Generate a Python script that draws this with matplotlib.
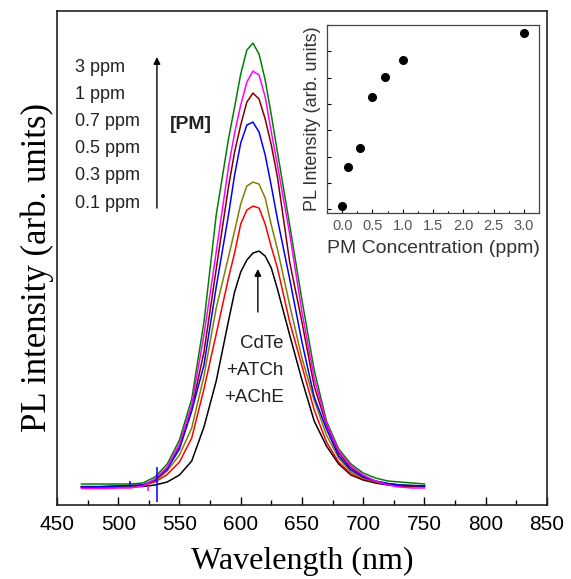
import numpy as np
import matplotlib
matplotlib.use('Agg')
import matplotlib.pyplot as plt
from matplotlib.ticker import MultipleLocator

# PL spectra (baseline = 0, arbitrary units)
wl = [470, 480, 490, 500, 510, 520, 530, 540, 550, 560, 570, 580, 590, 595, 600,
      605, 610, 615, 620, 625, 630, 640, 650, 660, 670, 680, 690, 700, 710, 720,
      730, 740, 750]

pl_0ppm = [0, 0, 0, 0, 0.3, 0.5, 2, 5, 12, 26, 60, 106, 166, 195, 215,
           227, 234, 236, 231, 219, 198, 152, 107, 66, 41, 23, 12, 7, 4, 2,
           1, 0.5, 0.5]
pl_01ppm = [0, 0, 0, 0.5, 1, 1.5, 5, 12.5, 25, 49, 98, 153, 209, 234, 263,
            277, 281, 279, 263, 240, 219, 165, 121, 77, 45, 25, 13, 8, 5, 3,
            2, 1, 1]
pl_03ppm = [0, 0, 0.5, 0.5, 1, 1.5, 6, 16, 32, 59, 111, 179, 230, 256, 283,
            301, 305, 303, 289, 262, 238, 182, 129, 87, 52, 29, 15, 9, 5.5, 3.5,
            2, 1.5, 1]
pl_05ppm = [0, 0, 0.5, 1, 1.5, 2, 7, 18, 38, 76, 122, 200, 272, 312, 344,
            362, 365, 355, 332, 301, 268, 208, 145, 90, 58, 31, 17, 10, 6, 3.5,
            2, 1.5, 1]
pl_07ppm = [0.5, 0.5, 0.5, 1, 1.5, 2, 7, 18, 40, 78, 135, 218, 300, 335, 362,
            385, 394, 388, 368, 342, 310, 225, 165, 101, 62, 34, 19, 11, 6, 3,
            1.5, 1, 0.5]
pl_1ppm = [-1.5, -1.5, -1.5, -1, -1, 1, 8, 20, 43, 82, 152, 235, 320, 354, 382,
           405, 416, 412, 390, 355, 322, 253, 175, 109, 64, 36, 21, 12, 6, 2,
           0, -1, -1]
pl_3ppm = [3, 3, 3, 3, 3, 4, 10, 23, 47, 88, 165, 272, 348, 380, 413,
           437, 444, 433, 407, 372, 335, 262, 187, 117, 66, 38, 23, 14, 9, 6,
           5, 4, 3]

spectra = [pl_0ppm, pl_01ppm, pl_03ppm, pl_07ppm, pl_05ppm, pl_3ppm, pl_1ppm]
colors = ['black', '#ff0000', '#808000', '#800000', '#0000ff', '#008000', '#ff00ff']

# narrow spikes in the spectra
spike_wl = [510, 532, 524]
spike_lo = [0, -15, -4]
spike_hi = [6, 20, 1]
spike_col = ['#0000ff', '#0000ff', '#ff00ff']

conc_labels = ['3 ppm', '1 ppm', '0.7 ppm', '0.5 ppm', '0.3 ppm', '0.1 ppm']
sample_lines = ['CdTe', '+ATCh', '+AChE']

# inset: peak intensity vs concentration
conc = [0.0, 0.1, 0.3, 0.5, 0.7, 1.0, 3.0]
peak = [0.13, 1.61, 2.31, 4.25, 5.03, 5.69, 6.68]

sans = ['Liberation Sans', 'DejaVu Sans']
serif = ['Liberation Serif', 'DejaVu Serif']

fig = plt.figure(figsize=(5.71, 5.79), dpi=100)
ax = fig.add_axes([0.0998, 0.1278, 0.858, 0.853])

for y, c in zip(spectra, colors):
    ax.plot(wl, y, color=c, lw=1.1)
ax.vlines(spike_wl, spike_lo, spike_hi, colors=spike_col, lw=1.1)

ax.set_xlim(450, 850)
ax.set_ylim(-18, 476)
ax.xaxis.set_major_locator(MultipleLocator(50))
ax.xaxis.set_minor_locator(MultipleLocator(25))
ax.tick_params(axis='x', which='major', direction='in', length=6, width=1,
               pad=7, labelsize=15)
ax.tick_params(axis='x', which='minor', direction='in', length=3.5, width=1)
ax.set_yticks([])
for lab in ax.get_xticklabels():
    lab.set_family(sans)
for s in ax.spines.values():
    s.set_linewidth(1.2)
    s.set_color('#222222')

fig.text(302 / 571, 1 - 561 / 579, 'Wavelength (nm)', family=serif, fontsize=23,
         ha='center', va='center')
fig.text(37 / 571, 1 - 268 / 579, 'PL intensity (arb. units)', family=serif,
         fontsize=25, rotation=90, ha='center', va='center')

# concentration list and arrow
for i, t in enumerate(conc_labels):
    ax.text(465, 420 - i * 27.2, t, family=sans, fontsize=13, color='#222222',
            ha='left', va='center')
ax.annotate('', xy=(531.6, 430), xytext=(531.6, 279),
            arrowprops=dict(arrowstyle='-|>', color='black', lw=1,
                            mutation_scale=10, shrinkA=0, shrinkB=0))
ax.text(559, 363, '[PM]', family=sans, fontsize=14, fontweight='bold',
        ha='center', va='center', color='#222222')

ax.annotate('', xy=(614, 218), xytext=(614, 175),
            arrowprops=dict(arrowstyle='-|>', color='black', lw=1,
                            mutation_scale=10, shrinkA=0, shrinkB=0))
for i, t in enumerate(sample_lines):
    ax.text(635, 144 - i * 27, t, family=sans, fontsize=13.5, color='#222222',
            ha='right', va='center')

# inset
ins = fig.add_axes([0.5727, 0.632, 0.3713, 0.3247])
ins.plot(conc, peak, 'o', color='black', ms=5.5)
ins.set_xlim(-0.25, 3.25)
ins.set_ylim(-0.15, 7)
ins.xaxis.set_major_locator(MultipleLocator(0.5))
ins.xaxis.set_minor_locator(MultipleLocator(0.25))
ins.yaxis.set_major_locator(MultipleLocator(1))
ins.tick_params(axis='both', which='major', direction='in', length=3, width=0.8,
                labelsize=10.5, labelcolor='#555555', pad=4)
ins.tick_params(axis='x', which='minor', direction='in', length=1.8, width=0.8)
ins.tick_params(axis='y', labelleft=False)
for lab in ins.get_xticklabels():
    lab.set_family(sans)
for s in ins.spines.values():
    s.set_linewidth(0.9)
    s.set_color('#444444')
ins.set_xlabel('PM Concentration (ppm)', family=sans, fontsize=14,
               color='#333333', labelpad=5)
ins.set_ylabel('PL Intensity (arb. units)', family=sans, fontsize=13,
               color='#333333', labelpad=4)

fig.savefig('out.png', dpi=100)
